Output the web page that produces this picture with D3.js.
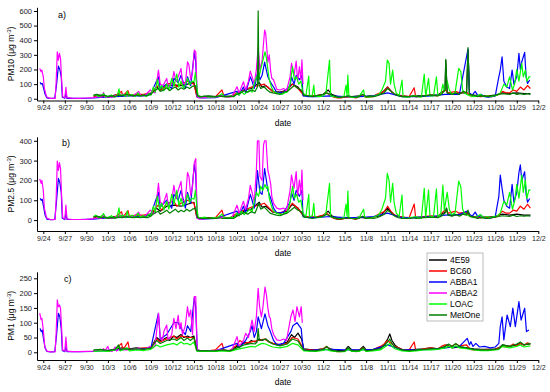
<!DOCTYPE html>
<html>
<head>
<meta charset="utf-8">
<script src="https://cdn.jsdelivr.net/npm/d3@7"></script>
<style>
  body { margin: 0; background: #fff; }
  svg { font-family: "Liberation Sans", Arial, sans-serif; }
</style>
</head>
<body>
<svg id="chart" width="550" height="392"></svg>
<script>
// series names and colours (legend order = draw order)
const seriesNames = ["4E59", "BC60", "ABBA1", "ABBA2", "LOAC", "MetOne"];
const seriesColors = ["#000000", "#ff0000", "#0000ff", "#ff00ff", "#00ff00", "#007f00"];
const tickLabels = ["9/24","9/27","9/30","10/3","10/6","10/9","10/12","10/15","10/18","10/21","10/24","10/27","10/30",
  "11/2","11/5","11/8","11/11","11/14","11/17","11/20","11/23","11/26","11/29","12/2"];

// [days since 9/24 00:00, value]
const pm10_4E59 = [[7,20],[8,25],[9,15],[10,25],[11,30],[12,25],[13,30],[14,25],[15,35],[15.8,80],[16.3,60],[17.2,90],[18.2,95],[19.2,90],[20.1,100],[21.0,110],[21.4,20],[22,15],[23,18],[24,15],[25,20],[26,15],[27,35],[28,60],[29,70],[30.1,110],[30.5,80],[31,90],[32,50],[33,45],[34,60],[34.7,100],[35.5,80],[36.3,25],[37,20],[38,20],[39,30],[39.7,60],[40.2,30],[41,15],[42,15],[43,15],[44,20],[45,15],[46,20],[47,30],[48,80],[48.5,50],[49,30],[50,20],[51,15],[52,20],[53,20],[54,25],[55,25],[56,60],[56.1,260],[56.3,40],[57,30],[58,40],[59,40],[59.2,330],[59.4,30],[60,25],[61,20],[62,20],[63,25],[64,40],[65,35],[66,40],[67,35],[67.9,35]];
const pm10_BC60 = [[7,15],[8,20],[9,12],[10,20],[10.9,50],[11.1,20],[11.8,55],[12,25],[13,30],[14,30],[15,40],[16,90],[16.5,60],[17.2,100],[18.2,110],[18.6,80],[19.2,100],[20.1,120],[21,100],[21.4,15],[22,10],[23,12],[24,15],[24.9,60],[25.2,15],[26,12],[27,40],[28,60],[29,80],[30,90],[30.8,100],[31.5,70],[32,50],[33,40],[34,60],[34.7,100],[35.5,70],[36.3,25],[37,20],[38,20],[39,30],[39.5,40],[40,25],[40.5,10],[41,5],[41.5,5],[42,10],[42.5,15],[43,10],[43.6,5],[44,15],[44.6,20],[45,10],[46,15],[46.5,30],[47,40],[47.5,50],[48,80],[48.5,50],[49,30],[50,20],[51,15],[51.7,75],[51.9,15],[52.5,15],[53,20],[54,25],[55,20],[55.5,40],[56,60],[56.5,40],[57,45],[57.5,50],[58,40],[59,45],[59.5,20],[60,20],[61,15],[62,20],[62.5,15],[63,20],[63.5,30],[64,50],[64.5,40],[65,40],[65.5,60],[66,50],[66.5,80],[67,60],[67.5,90],[67.9,70]];
const pm10_ABBA1 = [[-0.45,112],[-0.3,100],[-0.15,105],[0,80],[0.25,30],[0.5,5],[1,2],[1.6,3],[1.85,100],[2.1,223],[2.3,200],[2.5,150],[2.65,10],[3,3],[3.15,40],[3.3,3],[5,3],[7,5],[8,10],[10,15],[12,20],[14,20],[15,35],[16.05,150],[16.3,70],[17.2,100],[17.9,70],[18.2,140],[18.8,110],[19.2,160],[19.8,70],[20.1,150],[20.55,90],[21.05,315],[21.25,250],[21.45,10],[22,5],[24,8],[27.0,50],[27.3,25],[27.9,80],[28.2,40],[28.85,150],[29.1,120],[29.4,70],[29.7,140],[29.95,200],[30.2,130],[30.5,160],[30.85,250],[31.3,150],[31.7,110],[32.1,80],[32.55,40],[33.5,45],[34.4,90],[34.6,150],[34.95,100],[35.25,160],[35.7,130],[36.05,160],[36.2,20],[37,15],[38,15],[40,20],[42,15],[44,15],[46,20],[48,40],[50,15],[52,15],[54,20],[56,30],[58,30],[59.2,340],[59.4,40],[59.8,25],[60.2,50],[60.6,20],[61.0,30],[61.5,15],[62.0,10],[62.5,15],[63.0,20],[63.5,150],[63.7,196],[63.95,287],[64.2,120],[64.6,80],[65.0,70],[65.35,196],[65.6,100],[66.0,150],[66.3,310],[66.5,200],[66.7,253],[67.1,317],[67.3,150],[67.5,105],[67.8,128]];
const pm10_ABBA2 = [[-0.5,207],[-0.3,185],[-0.2,196],[0,150],[0.15,70],[0.45,14],[0.9,3],[1.3,2],[1.65,3],[1.78,105],[1.95,320],[2.1,264],[2.25,310],[2.4,276],[2.55,128],[2.7,14],[3.0,7],[3.15,78],[3.3,7],[4,4],[5,3],[6,5],[7,8],[7.6,15],[8.1,10],[8.4,42],[8.6,12],[9.2,15],[9.6,10],[10.0,20],[10.5,25],[11.0,30],[11.5,20],[12.0,25],[12.5,20],[13.3,50],[13.6,20],[14.2,25],[14.9,60],[15.3,45],[15.6,40],[16.05,196],[16.3,100],[16.7,90],[17.2,139],[17.4,80],[17.9,100],[18.2,185],[18.5,120],[18.8,150],[19.2,207],[19.4,110],[19.8,100],[20.1,253],[20.3,230],[20.55,130],[20.8,180],[21.05,333],[21.25,320],[21.45,14],[21.7,5],[22.2,8],[23,10],[24,12],[24.9,20],[25.5,10],[26.3,15],[27.0,82],[27.3,40],[27.9,116],[28.2,60],[28.6,120],[28.85,189],[29.1,150],[29.4,100],[29.7,200],[29.95,350],[30.2,200],[30.5,260],[30.85,470],[31.0,447],[31.3,250],[31.5,300],[31.7,185],[31.85,140],[32.1,128],[32.55,64],[33.0,60],[33.5,70],[33.9,55],[34.4,150],[34.6,242],[34.95,160],[35.25,258],[35.45,120],[35.7,219],[35.9,130],[36.05,265],[36.2,100]];
const pm10_LOAC = [[7.0,20],[7.3,28],[7.7,15],[8.1,22],[8.4,35],[8.7,12],[9.1,18],[9.5,25],[9.9,12],[10.3,20],[10.55,68],[10.7,20],[11.1,28],[11.5,15],[11.7,50],[11.9,18],[12.4,30],[12.8,15],[13.2,40],[13.5,18],[13.9,25],[14.3,15],[14.7,35],[15.0,25],[15.35,80],[15.6,45],[15.9,130],[16.2,60],[16.5,90],[16.8,55],[17.2,100],[17.5,60],[17.9,139],[18.2,85],[18.6,169],[18.9,80],[19.2,120],[19.5,75],[19.8,95],[20.1,140],[20.4,95],[20.7,120],[21.0,116],[21.2,178],[21.45,60],[21.6,15],[22.0,12],[22.5,18],[23.0,10],[23.5,15],[24.0,12],[24.5,20],[24.9,35],[25.2,15],[25.7,12],[26.2,18],[26.6,15],[27.0,40],[27.3,25],[27.6,50],[28.0,30],[28.4,45],[28.8,60],[29.1,45],[29.4,100],[29.7,150],[30.0,130],[30.3,200],[30.6,260],[30.9,320],[31.1,280],[31.3,200],[31.5,130],[31.8,80],[32.1,50],[32.5,40],[32.9,35],[33.3,30],[33.6,40],[34.0,45],[34.4,100],[34.75,219],[35.0,130],[35.3,150],[35.6,100],[35.9,120],[36.2,40],[36.6,20],[37.0,155],[37.1,20],[37.5,25],[37.7,93],[37.85,20],[38.4,15],[39.0,20],[39.4,40],[39.9,264],[40.05,20],[40.5,15],[41.0,10],[41.4,10],[41.9,15],[42.2,93],[42.35,20],[42.45,162],[42.6,15],[43.0,10],[43.5,10],[44.0,15],[44.65,60],[44.8,15],[45.3,10],[45.8,15],[46.3,20],[46.8,30],[47.2,60],[47.7,120],[47.95,264],[48.2,242],[48.4,100],[48.7,196],[48.9,100],[49.2,40],[49.6,20],[50.0,128],[50.15,15],[50.6,10],[51.1,15],[51.9,20],[52.3,15],[52.7,10],[53.1,169],[53.3,15],[53.7,139],[53.9,20],[54.4,20],[54.8,150],[55.0,20],[55.4,30],[55.7,100],[55.9,50],[56.3,120],[56.6,60],[56.9,30],[57.4,40],[57.9,207],[58.2,185],[58.45,60],[58.7,40],[59.0,30],[59.5,20],[60.0,15],[60.5,20],[60.9,30],[61.4,15],[61.9,20],[62.3,15],[62.8,20],[63.3,25],[63.7,40],[64.2,100],[64.6,80],[65.0,150],[65.4,60],[65.7,100],[66.0,200],[66.3,120],[66.7,242],[66.9,150],[67.2,196],[67.4,120],[67.7,150],[67.9,150]];
const pm10_MetOne = [[7.0,25],[7.5,30],[8,20],[8.5,25],[9,15],[9.5,20],[10,15],[10.5,25],[11,20],[11.5,30],[12,25],[12.5,20],[13,25],[13.5,20],[14,25],[14.5,20],[15,30],[15.5,55],[16,70],[16.3,50],[16.8,60],[17.2,75],[17.6,55],[18,70],[18.4,80],[18.8,60],[19.2,75],[19.6,65],[20,80],[20.4,70],[20.8,85],[21.2,90],[21.5,20],[22,15],[23,18],[24,15],[24.5,20],[25,15],[26,18],[26.5,15],[27,30],[27.5,40],[28,55],[28.5,45],[29,60],[29.5,50],[29.85,80],[29.95,600],[30.05,100],[30.3,70],[30.8,80],[31.2,60],[31.6,45],[32,40],[32.5,35],[33,30],[33.5,45],[34,50],[34.5,70],[35,90],[35.5,70],[36,60],[36.3,25],[37,20],[37.5,15],[38,20],[38.5,25],[39,30],[39.5,40],[40,30],[40.5,20],[41,10],[41.5,10],[42,15],[42.5,20],[43,15],[43.5,10],[44,15],[44.5,30],[45,15],[45.5,20],[46,15],[46.5,20],[47,30],[47.5,40],[48,70],[48.5,50],[49,30],[49.5,20],[50,15],[51,15],[51.5,20],[52,15],[53,20],[54,25],[55,20],[55.5,30],[56,60],[56.1,270],[56.3,40],[57,30],[57.5,40],[58,30],[58.5,50],[59.0,40],[59.2,350],[59.4,30],[60,25],[60.5,15],[61,20],[62,15],[62.5,20],[63,25],[63.5,30],[64,35],[65,30],[65.5,40],[66,30],[66.5,35],[67,30],[67.5,35],[67.9,30]];

const pm25_4E59 = [[7,15],[8,18],[9,12],[10,18],[11,22],[12,18],[13,22],[14,18],[15,25],[15.8,60],[16.3,45],[17.2,70],[18.2,75],[19.2,70],[20.1,80],[21.0,90],[21.4,15],[22,10],[23,12],[24,10],[25,15],[26,10],[27,25],[28,45],[29,55],[30.1,90],[30.5,65],[31,70],[32,40],[33,35],[34,45],[34.7,80],[35.5,60],[36.3,18],[37,15],[38,15],[39,22],[39.7,45],[40.2,22],[41,10],[42,10],[43,10],[44,15],[45,10],[46,15],[47,22],[48,60],[48.5,38],[49,22],[50,15],[51,10],[52,15],[53,15],[54,18],[55,18],[56,40],[56.2,60],[56.4,28],[57,22],[58,30],[59,30],[59.2,45],[59.4,22],[60,18],[61,15],[62,15],[63,18],[64,30],[65,25],[66,30],[67,25],[67.9,25]];
const pm25_BC60 = [[7,12],[8,15],[9,10],[10,15],[10.9,42],[11.1,15],[11.8,48],[12,20],[13,25],[14,25],[15,32],[16,75],[16.5,50],[17.2,85],[18.2,95],[18.6,70],[19.2,85],[20.1,100],[21,85],[21.4,12],[22,8],[23,10],[24,12],[24.9,50],[25.2,12],[26,10],[27,35],[28,50],[29,65],[30,75],[30.8,85],[31.5,60],[32,42],[33,35],[34,50],[34.7,85],[35.5,60],[36.3,20],[37,15],[38,15],[39,25],[39.5,35],[40,20],[40.5,8],[41,4],[41.5,4],[42,8],[42.5,12],[43,8],[43.6,4],[44,12],[44.6,18],[45,8],[46,12],[46.5,25],[47,35],[47.5,42],[48,70],[48.5,42],[49,25],[50,15],[51,12],[51.7,81],[51.9,12],[52.5,12],[53,18],[54,22],[55,18],[55.5,35],[56,50],[56.5,35],[57,40],[57.5,45],[58,35],[59,40],[59.5,18],[60,15],[61,12],[62,15],[62.5,12],[63,15],[63.5,25],[64,45],[64.5,35],[65,35],[65.5,50],[66,45],[66.5,70],[67,55],[67.5,80],[67.9,60]];
const pm25_ABBA1 = [[-0.45,110],[-0.3,100],[-0.15,105],[0,75],[0.25,25],[0.5,5],[1,2],[1.6,3],[1.85,100],[2.1,210],[2.3,190],[2.5,140],[2.65,10],[3,3],[3.15,35],[3.3,3],[5,3],[7,5],[8,8],[10,12],[12,15],[14,18],[15,30],[16.05,140],[16.3,65],[17.2,100],[17.9,60],[18.2,130],[18.8,100],[19.2,150],[19.8,60],[20.1,140],[20.55,85],[21.05,280],[21.25,230],[21.45,10],[22,5],[24,8],[27.0,45],[27.3,22],[27.9,70],[28.2,35],[28.85,130],[29.1,100],[29.4,60],[29.7,150],[29.85,250],[30.2,140],[30.5,130],[30.85,260],[31.3,150],[31.7,110],[32.1,60],[32.55,35],[33.5,40],[34.4,90],[34.6,140],[34.95,100],[35.25,150],[35.7,120],[36.05,150],[36.2,18],[37,12],[38,12],[40,18],[42,12],[44,12],[46,18],[48,35],[50,12],[52,12],[54,18],[56,25],[58,28],[59.1,45],[59.4,30],[59.8,20],[60.2,40],[60.6,15],[61.0,25],[61.5,10],[62.0,8],[62.5,12],[63.0,18],[63.5,120],[63.7,227],[63.95,160],[64.2,100],[64.6,70],[65.0,60],[65.35,180],[65.6,90],[66.0,140],[66.3,240],[66.5,278],[66.7,200],[67.1,244],[67.3,130],[67.5,90],[67.8,109]];
const pm25_ABBA2 = [[-0.5,208],[-0.3,185],[-0.2,200],[0,150],[0.15,60],[0.45,12],[0.9,3],[1.3,2],[1.65,3],[1.78,100],[1.95,298],[2.1,250],[2.25,290],[2.4,260],[2.55,120],[2.7,12],[3.0,6],[3.15,75],[3.3,6],[4,3],[5,3],[6,4],[7,7],[7.6,12],[8.1,8],[8.4,30],[8.6,10],[9.2,12],[9.6,8],[10.0,15],[10.5,20],[11.0,25],[11.5,18],[12.0,20],[12.5,15],[13.3,40],[13.6,15],[14.2,20],[14.9,50],[15.3,35],[15.6,35],[16.05,185],[16.3,90],[16.7,80],[17.2,135],[17.4,75],[17.9,95],[18.2,175],[18.5,110],[18.8,150],[19.2,195],[19.4,100],[19.8,95],[20.1,240],[20.3,220],[20.55,125],[20.8,170],[21.05,290],[21.25,310],[21.45,12],[21.7,4],[22.2,6],[23,8],[24,10],[24.9,15],[25.5,8],[26.3,12],[27.0,75],[27.3,35],[27.9,95],[28.2,55],[28.6,110],[28.85,175],[29.1,140],[29.4,90],[29.7,250],[29.85,400],[30.05,400],[30.2,220],[30.5,200],[30.7,380],[30.85,400],[31.05,400],[31.3,250],[31.5,220],[31.7,180],[31.85,120],[32.1,84],[32.55,60],[33.0,55],[33.5,60],[33.9,50],[34.4,150],[34.6,227],[34.95,160],[35.25,244],[35.45,120],[35.7,202],[35.9,130],[36.05,252],[36.2,100]];
const pm25_LOAC = [[7.0,18],[7.3,25],[7.7,12],[8.1,20],[8.4,32],[8.7,10],[9.1,15],[9.5,22],[9.9,10],[10.3,18],[10.55,62],[10.7,18],[11.1,25],[11.5,12],[11.7,45],[11.9,15],[12.4,25],[12.8,12],[13.2,35],[13.5,15],[13.9,22],[14.3,12],[14.7,30],[15.0,22],[15.35,70],[15.6,40],[15.9,120],[16.2,55],[16.5,85],[16.8,50],[17.2,95],[17.5,55],[17.9,130],[18.2,80],[18.6,150],[18.9,75],[19.2,110],[19.5,70],[19.8,90],[20.1,130],[20.4,90],[20.7,110],[21.0,105],[21.2,150],[21.45,50],[21.6,12],[22.0,10],[22.5,15],[23.0,8],[23.5,12],[24.0,10],[24.5,18],[24.9,30],[25.2,12],[25.7,10],[26.2,15],[26.6,12],[27.0,35],[27.3,22],[27.6,45],[28.0,28],[28.4,40],[28.8,55],[29.1,40],[29.4,90],[29.7,140],[30.0,120],[30.3,170],[30.6,150],[30.9,180],[31.1,160],[31.3,170],[31.5,110],[31.8,70],[32.1,45],[32.5,35],[32.9,30],[33.3,28],[33.6,35],[34.0,40],[34.4,90],[34.75,170],[35.0,110],[35.3,130],[35.6,90],[35.9,100],[36.2,35],[36.6,18],[37.0,130],[37.1,18],[37.5,22],[37.7,85],[37.85,18],[38.4,12],[39.0,18],[39.4,35],[39.9,185],[40.05,18],[40.5,12],[41.0,8],[41.4,8],[41.9,12],[42.2,80],[42.35,18],[42.45,146],[42.6,12],[43.0,8],[43.5,8],[44.0,12],[44.65,55],[44.8,12],[45.3,8],[45.8,12],[46.3,18],[46.8,28],[47.2,55],[47.7,110],[47.95,236],[48.2,200],[48.4,90],[48.7,185],[48.9,90],[49.2,35],[49.6,18],[50.0,126],[50.15,12],[50.6,8],[51.1,12],[51.9,18],[52.3,12],[52.7,8],[53.1,160],[53.3,12],[53.7,152],[53.9,18],[54.4,18],[54.8,157],[55.0,18],[55.4,28],[55.7,177],[55.9,50],[56.3,140],[56.6,55],[56.9,28],[57.4,35],[57.9,197],[58.2,168],[58.45,55],[58.7,35],[59.0,28],[59.5,18],[60.0,12],[60.5,18],[60.9,28],[61.4,12],[61.9,18],[62.3,12],[62.8,18],[63.3,22],[63.7,35],[64.2,95],[64.6,75],[65.0,140],[65.4,55],[65.7,95],[66.0,180],[66.3,110],[66.7,227],[66.9,140],[67.2,202],[67.4,110],[67.7,152],[67.9,150]];
const pm25_MetOne = [[7.0,15],[7.5,20],[8,12],[8.5,15],[9,10],[9.5,12],[10,10],[10.5,15],[11,12],[11.5,18],[12,15],[12.5,12],[13,15],[13.5,12],[14,15],[14.5,12],[15,20],[15.5,35],[16,45],[16.3,30],[16.8,40],[17.2,50],[17.6,35],[18,45],[18.4,55],[18.8,40],[19.2,50],[19.6,42],[20,55],[20.4,45],[20.8,55],[21.2,60],[21.5,12],[22,8],[23,10],[24,8],[24.5,12],[25,8],[26,10],[26.5,8],[27,20],[27.5,28],[28,38],[28.5,30],[29,42],[29.5,35],[29.9,70],[30.05,85],[30.3,55],[30.8,65],[31.2,50],[31.6,35],[32,30],[32.5,25],[33,22],[33.5,30],[34,35],[34.5,50],[35,65],[35.5,50],[36,42],[36.3,15],[37,12],[37.5,8],[38,12],[38.5,15],[39,20],[39.5,28],[40,20],[40.5,12],[41,6],[41.5,6],[42,8],[42.5,12],[43,8],[43.5,6],[44,8],[44.5,20],[45,8],[45.5,12],[46,8],[46.5,12],[47,20],[47.5,28],[48,50],[48.5,35],[49,20],[49.5,12],[50,8],[51,8],[51.5,12],[52,8],[53,12],[54,15],[55,12],[55.5,20],[56,35],[56.2,60],[56.4,25],[57,20],[57.5,28],[58,20],[58.5,30],[59,25],[59.2,50],[59.5,18],[60,15],[60.5,8],[61,12],[62,8],[62.5,12],[63,15],[63.5,18],[64,22],[65,18],[65.5,25],[66,18],[66.5,22],[67,20],[67.5,22],[67.9,20]];

const pm1_4E59 = [[7,5],[8,8],[9,5],[10,10],[11,15],[12,12],[13,15],[14,12],[15,15],[15.8,50],[16.3,40],[16.8,45],[17.2,50],[17.6,40],[18.2,55],[18.6,50],[19.2,60],[19.6,50],[20.1,55],[20.5,50],[21.0,55],[21.4,8],[22,5],[23,6],[24,5],[25,8],[26,5],[27,20],[27.5,25],[28,35],[28.5,30],[29,40],[29.5,35],[30.1,45],[30.5,40],[31,45],[31.5,35],[32,30],[33,25],[34,35],[34.6,60],[35,50],[35.5,65],[36,45],[36.3,12],[37,10],[38,8],[39,12],[39.5,18],[40,12],[41,6],[42,6],[42.5,20],[43,8],[44,6],[44.6,20],[45,8],[46,10],[47,15],[47.5,25],[48,45],[48.3,62],[48.6,40],[49,25],[49.5,15],[50,10],[51,8],[52,10],[53,12],[54,15],[55,12],[56,18],[56.2,25],[57,15],[58,18],[59,15],[60,12],[61,10],[62,10],[63,12],[63.5,15],[64,25],[65,20],[66,25],[66.5,30],[67,25],[67.9,28]];
const pm1_BC60 = [[7,5],[8,8],[9,5],[10,8],[10.9,30],[11.1,8],[11.8,35],[12,10],[13,12],[14,15],[15,15],[15.8,45],[16.3,35],[17.2,45],[18.2,55],[18.6,45],[19.2,55],[20.1,50],[21,50],[21.4,6],[22,4],[23,5],[24,8],[24.9,30],[25.2,6],[26,5],[27,25],[27.4,40],[28,30],[29,35],[30,40],[30.8,45],[31.5,35],[32,30],[33,25],[34,30],[34.7,50],[35.5,45],[36.3,10],[37,8],[38,8],[39,12],[39.5,20],[40,10],[40.5,4],[41,2],[41.5,2],[42,5],[42.5,12],[43,5],[43.6,2],[44,8],[44.6,15],[45,5],[46,8],[46.5,15],[47,20],[47.5,28],[48,40],[48.5,30],[49,20],[50,10],[51,8],[51.7,35],[51.9,8],[52.5,8],[53,12],[54,15],[55,12],[55.5,20],[56,25],[56.5,20],[57,22],[57.5,28],[58,22],[59,25],[59.5,10],[60,8],[61,8],[62,10],[62.5,8],[63,10],[63.5,15],[64,20],[64.5,18],[65,20],[65.5,28],[66,22],[66.5,30],[67,25],[67.5,32],[67.9,28]];
const pm1_ABBA1 = [[-0.45,81],[-0.3,70],[-0.15,75],[0,50],[0.25,15],[0.5,3],[1,1],[1.6,2],[1.85,60],[2.1,132],[2.3,120],[2.5,80],[2.65,6],[3,2],[3.15,20],[3.3,2],[5,2],[7,3],[8,5],[10,8],[12,10],[14,12],[15,15],[16.05,132],[16.3,45],[17.2,60],[18.2,100],[18.8,100],[19.2,80],[19.8,60],[20.1,90],[20.55,70],[21.05,186],[21.25,150],[21.45,8],[22,3],[24,5],[27.0,30],[27.3,15],[27.9,30],[28.2,40],[28.85,70],[29.1,90],[29.4,50],[29.7,70],[29.95,120],[30.4,80],[30.9,130],[31.3,90],[31.65,70],[32.1,40],[32.55,25],[33.5,30],[34.5,70],[34.8,90],[35.35,100],[35.95,80],[36.1,40],[36.3,8],[37,6],[38,8],[40,10],[42,8],[44,8],[46,10],[48,25],[50,8],[52,8],[54,10],[56,15],[58,20],[59.1,47],[59.4,25],[59.6,36],[59.9,20],[60.3,30],[60.8,18],[61.5,20],[62.3,15],[63.0,18],[63.5,30],[63.7,87],[63.95,120],[64.2,42],[64.65,126],[65.1,87],[65.45,149],[65.8,87],[66.3,171],[66.6,109],[67.1,149],[67.35,70],[67.7,75]];
const pm1_ABBA2 = [[-0.5,132],[-0.3,110],[-0.2,115],[0,75],[0.2,20],[0.45,5],[0.9,2],[1.3,1],[1.65,2],[1.78,60],[1.95,177],[2.1,154],[2.25,160],[2.4,149],[2.55,80],[2.7,8],[3.0,4],[3.15,51],[3.3,4],[4,2],[5,2],[6,3],[7,4],[7.6,8],[8.1,5],[8.4,12],[8.6,5],[9.0,20],[9.2,5],[9.6,3],[10.0,18],[10.2,4],[10.5,10],[11.0,12],[11.5,8],[12.0,10],[12.5,8],[13.3,15],[13.6,8],[14.2,10],[14.9,20],[15.3,15],[15.6,25],[16.05,132],[16.3,50],[16.6,40],[16.8,70],[17.2,92],[17.4,40],[17.9,60],[18.2,115],[18.5,80],[18.8,125],[19.0,80],[19.2,100],[19.4,60],[19.8,90],[20.1,154],[20.3,120],[20.55,143],[20.8,60],[21.05,188],[21.25,188],[21.45,10],[21.7,3],[22.2,4],[23,5],[24,6],[24.9,10],[25.5,5],[26.3,8],[27.0,53],[27.3,20],[27.9,40],[28.2,64],[28.6,50],[28.85,80],[29.1,109],[29.4,70],[29.7,120],[29.95,216],[30.15,154],[30.4,120],[30.6,150],[30.9,220],[31.1,194],[31.3,150],[31.5,120],[31.65,115],[31.85,80],[32.1,60],[32.55,42],[33.0,40],[33.5,45],[33.9,40],[34.2,80],[34.5,120],[34.8,143],[35.1,104],[35.35,154],[35.7,120],[35.95,154],[36.1,100]];
const pm1_LOAC = [[7,3],[8,5],[9,3],[10,8],[10.55,20],[10.7,5],[11,8],[11.7,15],[12,5],[13,8],[14,6],[15,10],[15.8,25],[16.3,18],[17.2,25],[18.2,30],[18.6,25],[19.2,35],[19.6,28],[20.1,30],[20.5,25],[21.0,35],[21.4,4],[22,3],[23,3],[24,3],[25,5],[26,3],[27,10],[28,15],[29,20],[29.5,18],[30.0,25],[30.5,30],[31,28],[31.5,22],[32,18],[33,15],[34,20],[34.7,30],[35.5,25],[36.3,5],[37,4],[38,3],[39,6],[39.5,10],[40,5],[41,2],[42,2],[42.5,10],[43,3],[44,3],[44.6,10],[45,3],[46,5],[47,8],[48,25],[48.3,30],[48.6,20],[49,12],[50,5],[51,3],[52,5],[53,8],[54,8],[55,10],[56,15],[56.5,20],[57,15],[57.5,22],[58,15],[59,12],[60,8],[61,6],[62,6],[63,8],[63.5,10],[64,20],[65,15],[66,20],[66.5,25],[67,18],[67.9,22]];
const pm1_MetOne = [[7,8],[8,10],[9,6],[10,10],[10.5,25],[10.7,8],[11,12],[12,10],[13,12],[14,10],[15,15],[15.8,40],[16.3,30],[17.2,40],[18.2,45],[18.6,40],[19.2,50],[19.6,40],[20.1,48],[20.5,40],[21.0,50],[21.4,6],[22,5],[23,5],[24,5],[25,8],[26,5],[27,15],[28,25],[29,30],[29.5,28],[29.8,35],[29.95,80],[30.1,40],[31,45],[31.5,35],[32,28],[33,22],[34,28],[34.7,45],[35.5,38],[36.3,8],[37,6],[38,5],[39,10],[39.5,20],[40,8],[41,3],[42,4],[42.5,15],[43,5],[44,5],[44.6,15],[45,5],[46,8],[47,12],[48,35],[48.3,45],[48.6,30],[49,18],[50,8],[51,5],[52,8],[53,10],[54,12],[55,12],[56,20],[56.5,28],[57,20],[57.5,30],[58,20],[59,15],[60,10],[61,8],[62,8],[63,10],[63.5,12],[64,25],[65,20],[66,28],[66.5,35],[67,25],[67.9,30]];

const panels = [
  { label: "a)", name: "PM10", yDomain: [-12, 625], yTicks: [0,100,200,300,400,500,600], top: 7.3, bottom: 100.5, labelX: 58, labelY: 18,
    series: [pm10_4E59, pm10_BC60, pm10_ABBA1, pm10_ABBA2, pm10_LOAC, pm10_MetOne] },
  { label: "b)", name: "PM2.5", yDomain: [-55, 420], yTicks: [0,100,200,300,400], top: 136.8, bottom: 231, labelX: 62, labelY: 146,
    series: [pm25_4E59, pm25_BC60, pm25_ABBA1, pm25_ABBA2, pm25_LOAC, pm25_MetOne] },
  { label: "c)", name: "PM1", yDomain: [-26, 272], yTicks: [0,50,100,150,200,250], top: 271.8, bottom: 360, labelX: 64, labelY: 282,
    series: [pm1_4E59, pm1_BC60, pm1_ABBA1, pm1_ABBA2, pm1_LOAC, pm1_MetOne] }
];

const svg = d3.select("#chart");
const base = new Date(2016, 8, 24);
const toDate = t => d3.timeMinute.offset(base, Math.round(t * 1440));
const parseTick = d3.timeParse("%Y/%m/%d");
const tickDates = tickLabels.map(s => parseTick("2016/" + s));
const fmt = d3.timeFormat("%-m/%-d");

const x = d3.scaleTime()
  .domain([toDate(-0.88), tickDates[tickDates.length - 1]])
  .range([37, 538.3]);

panels.forEach(p => {
  const y = d3.scaleLinear().domain(p.yDomain).range([p.bottom, p.top]);
  const g = svg.append("g");

  // axes
  const xa = g.append("g")
    .attr("transform", "translate(0," + p.bottom + ")")
    .call(d3.axisBottom(x).tickValues(tickDates).tickFormat(fmt).tickSize(3).tickPadding(2).tickSizeOuter(0));
  xa.selectAll("text").style("font-size", "7px").attr("fill", "#222");

  const ya = g.append("g")
    .attr("transform", "translate(37,0)")
    .call(d3.axisLeft(y).tickValues(p.yTicks).tickSize(3).tickPadding(2).tickSizeOuter(0));
  ya.selectAll("text").style("font-size", "7.5px").attr("fill", "#222");
  g.selectAll(".domain").attr("stroke", "#000");

  // lines
  const line = d3.line().x(d => x(toDate(d[0]))).y(d => y(d[1]));
  p.series.forEach((s, i) => {
    g.append("path")
      .datum(s)
      .attr("fill", "none")
      .attr("stroke", seriesColors[i])
      .attr("stroke-width", 1.2)
      .attr("stroke-linejoin", "round")
      .attr("d", line);
  });

  // panel label
  g.append("text")
    .attr("x", p.labelX).attr("y", p.labelY)
    .style("font-size", "9px")
    .text(p.label);

  // x title
  g.append("text")
    .attr("x", 283).attr("y", p.bottom + 25)
    .attr("text-anchor", "middle")
    .style("font-size", "8.5px")
    .text("date");

  // y title
  const yt = g.append("text")
    .attr("transform", "translate(14," + ((p.top + p.bottom) / 2) + ") rotate(-90)")
    .attr("text-anchor", "middle")
    .style("font-size", "8.5px");
  yt.append("tspan").text(p.name + " (μg m");
  yt.append("tspan").attr("dy", "-3").style("font-size", "6px").text("-3");
  yt.append("tspan").attr("dy", "3").text(")");
});

// legend
const lg = svg.append("g").attr("transform", "translate(427,253)");
lg.append("rect")
  .attr("width", 56).attr("height", 68)
  .attr("fill", "#fff").attr("stroke", "#aaa").attr("stroke-width", 0.8);
seriesNames.forEach((n, i) => {
  const yy = 7 + i * 11;
  lg.append("line")
    .attr("x1", 2).attr("x2", 20).attr("y1", yy).attr("y2", yy)
    .attr("stroke", seriesColors[i]).attr("stroke-width", 1.5);
  lg.append("text")
    .attr("x", 23).attr("y", yy + 3)
    .style("font-size", "8.5px")
    .text(n);
});
</script>
</body>
</html>
